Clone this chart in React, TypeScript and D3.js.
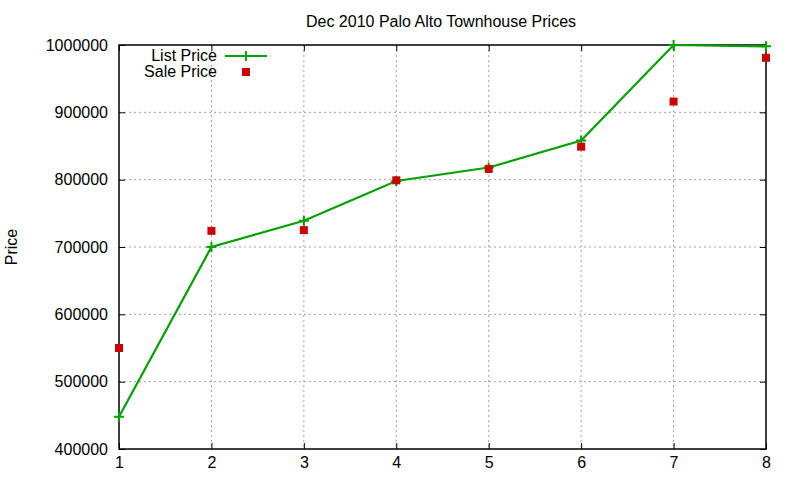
import React, { useEffect, useRef } from 'react';
import * as d3 from 'd3';

const days = [1, 2, 3, 4, 5, 6, 7, 8];
const listPrice = [448000, 700000, 739000, 798000, 818000, 858000, 1000000, 998000];
const salePrice = [550000, 724000, 725000, 799000, 816000, 849000, 916000, 981000];
const yTicks = [400000, 500000, 600000, 700000, 800000, 900000, 1000000];

const App: React.FC = () => {
  const svgRef = useRef<SVGSVGElement>(null);

  useEffect(() => {
    if (!svgRef.current) return;
    d3.select(svgRef.current).selectAll('*').remove();

    const width = 800;
    const height = 480;
    const margin = { top: 45, right: 34, bottom: 31, left: 119 };
    const innerWidth = width - margin.left - margin.right;
    const innerHeight = height - margin.top - margin.bottom;
    const font = 'Liberation Sans, Arial, sans-serif';

    const svg = d3
      .select(svgRef.current)
      .attr('width', width)
      .attr('height', height)
      .style('font-family', font);

    svg.append('rect').attr('width', width).attr('height', height).attr('fill', '#fff');

    const x = d3.scaleLinear().domain([1, 8]).range([0, innerWidth]);
    const y = d3.scaleLinear().domain([400000, 1000000]).range([innerHeight, 0]);

    const g = svg.append('g').attr('transform', `translate(${margin.left},${margin.top})`);

    // grid
    g.append('g')
      .selectAll('line')
      .data(days.slice(1, -1))
      .join('line')
      .attr('x1', (d) => x(d))
      .attr('x2', (d) => x(d))
      .attr('y1', 0)
      .attr('y2', innerHeight)
      .attr('stroke', '#a0a0a0')
      .attr('stroke-dasharray', '2,3');
    g.append('g')
      .selectAll('line')
      .data(yTicks.slice(1, -1))
      .join('line')
      .attr('x1', 0)
      .attr('x2', innerWidth)
      .attr('y1', (d) => y(d))
      .attr('y2', (d) => y(d))
      .attr('stroke', '#a0a0a0')
      .attr('stroke-dasharray', '2,3');

    // axes with inward ticks, mirrored
    const tickLen = 6;
    g.append('g')
      .attr('transform', `translate(0,${innerHeight})`)
      .call(d3.axisBottom(x).tickValues(days).tickFormat(d3.format('d')).tickSizeInner(-tickLen).tickSizeOuter(0).tickPadding(8))
      .call((a) => a.select('.domain').remove())
      .call((a) => a.selectAll('text').attr('font-size', 16).attr('fill', '#000'));
    g.append('g')
      .call(d3.axisTop(x).tickValues(days).tickFormat(() => '').tickSizeInner(-tickLen).tickSizeOuter(0))
      .call((a) => a.select('.domain').remove());
    g.append('g')
      .call(d3.axisLeft(y).tickValues(yTicks).tickFormat(d3.format('d')).tickSizeInner(-tickLen).tickSizeOuter(0).tickPadding(11))
      .call((a) => a.select('.domain').remove())
      .call((a) => a.selectAll('text').attr('font-size', 16).attr('fill', '#000'));
    g.append('g')
      .attr('transform', `translate(${innerWidth},0)`)
      .call(d3.axisRight(y).tickValues(yTicks).tickFormat(() => '').tickSizeInner(-tickLen).tickSizeOuter(0))
      .call((a) => a.select('.domain').remove());
    g.selectAll('.tick line').attr('stroke', '#000');

    // border
    g.append('rect')
      .attr('width', innerWidth)
      .attr('height', innerHeight)
      .attr('fill', 'none')
      .attr('stroke', '#000')
      .attr('stroke-width', 1.5);

    // list price line
    const line = d3
      .line<number>()
      .x((_, i) => x(days[i]))
      .y((d) => y(d));
    g.append('path')
      .datum(listPrice)
      .attr('d', line)
      .attr('fill', 'none')
      .attr('stroke', '#00a000')
      .attr('stroke-width', 2.2);

    const plusPath = (cx: number, cy: number, r: number) =>
      `M${cx - r},${cy}H${cx + r}M${cx},${cy - r}V${cy + r}`;
    g.append('g')
      .selectAll('path')
      .data(listPrice)
      .join('path')
      .attr('d', (d, i) => plusPath(x(days[i]), y(d), 5))
      .attr('stroke', '#00a000')
      .attr('stroke-width', 2);

    // sale price markers
    g.append('g')
      .selectAll('rect')
      .data(salePrice)
      .join('rect')
      .attr('x', (_, i) => x(days[i]) - 4)
      .attr('y', (d) => y(d) - 4)
      .attr('width', 8)
      .attr('height', 8)
      .attr('fill', '#cc0000');

    // legend
    const leg = svg.append('g').style('font-size', '16px');
    leg.append('text').attr('x', 217).attr('y', 61).attr('text-anchor', 'end').text('List Price');
    leg.append('line').attr('x1', 225).attr('x2', 267).attr('y1', 56).attr('y2', 56).attr('stroke', '#00a000').attr('stroke-width', 2.2);
    leg.append('path').attr('d', plusPath(246, 56, 5)).attr('stroke', '#00a000').attr('stroke-width', 2);
    leg.append('text').attr('x', 217).attr('y', 77).attr('text-anchor', 'end').text('Sale Price');
    leg.append('rect').attr('x', 242).attr('y', 68).attr('width', 8).attr('height', 8).attr('fill', '#cc0000');

    // title
    svg.append('text')
      .attr('x', 441)
      .attr('y', 27)
      .attr('text-anchor', 'middle')
      .style('font-size', '16px')
      .text('Dec 2010 Palo Alto Townhouse Prices');

    // y label
    svg.append('text')
      .attr('transform', 'translate(17,247) rotate(-90)')
      .attr('text-anchor', 'middle')
      .style('font-size', '16px')
      .text('Price');
  }, []);

  return (
    <div style={{ position: 'absolute', left: 0, top: 0 }}>
      <svg ref={svgRef} style={{ display: 'block' }}></svg>
    </div>
  );
};

export default App;
